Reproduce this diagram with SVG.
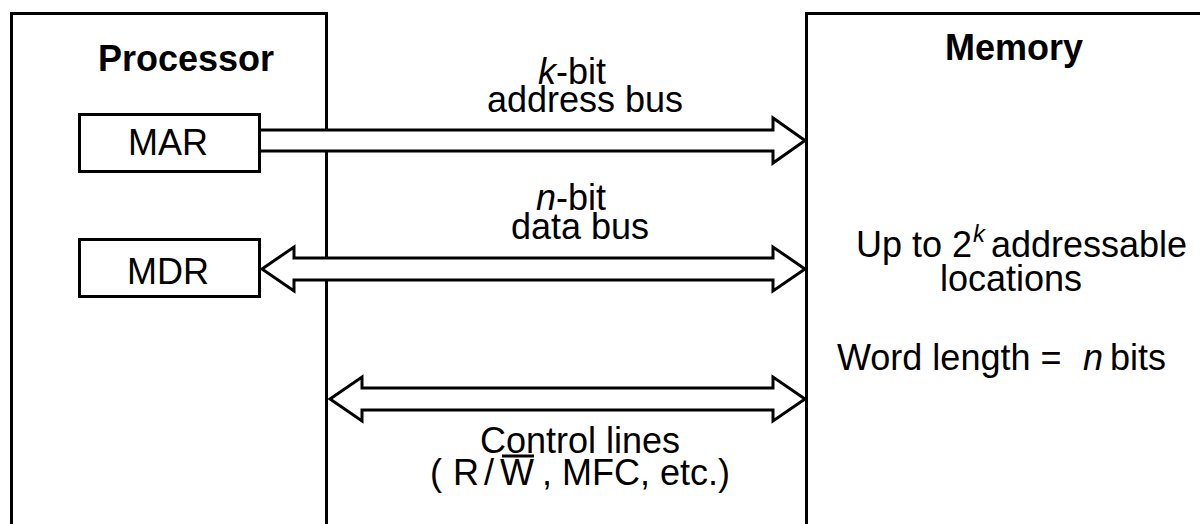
<svg xmlns="http://www.w3.org/2000/svg" width="1200" height="524" viewBox="0 0 1200 524">
<style>
.box{fill:#fff;stroke:#000;stroke-width:3}
.bus{fill:#fff;stroke:#000;stroke-width:3;stroke-linejoin:miter}
text{font-family:"Liberation Sans",Arial,sans-serif;font-size:36px;fill:#000}
.b{font-weight:bold}
.m{text-anchor:middle}
.i{font-style:italic}
</style>
<rect width="1200" height="524" fill="#fff"/>
<g id="processor">
<rect class="box" x="11.5" y="13.5" width="315" height="600"/>
<text class="b m" x="186" y="71">Processor</text>
</g>
<g id="memory">
<rect class="box" x="806.5" y="13.5" width="500" height="600"/>
<text class="b m" x="1014" y="60">Memory</text>
<text><tspan x="856" y="257">Up to 2</tspan><tspan class="i" font-size="24" x="973" y="242">k</tspan><tspan x="991" y="257">addressable</tspan><tspan class="m" x="1011" y="291">locations</tspan></text>
<text><tspan x="837" y="370">Word length =</tspan><tspan class="i" x="1083" y="370">n</tspan><tspan x="1110" y="370">bits</tspan></text>
</g>
<g id="mar">
<rect class="box" x="79.5" y="114.5" width="180" height="57"/>
<text class="m" x="168" y="155">MAR</text>
</g>
<g id="mdr">
<rect class="box" x="79.5" y="239.5" width="180" height="57"/>
<text class="m" x="168" y="284">MDR</text>
</g>
<g id="connectors">
<path class="bus" d="M261,130 H773 V118 L805,140.5 L773,163 V151 H261"/>
<path class="bus" d="M262,269 L294,247 V258 H773 V247 L805,269 L773,291 V280 H294 V291 Z"/>
<path class="bus" d="M330,399 L362,377 V388 H773 V377 L805,399 L773,421 V410 H362 V421 Z"/>
</g>
<g id="labels">
<text><tspan x="538" y="84" class="i">k</tspan><tspan>-bit</tspan><tspan class="m" x="585" y="112">address bus</tspan></text>
<text><tspan x="536" y="210" class="i">n</tspan><tspan>-bit</tspan><tspan class="m" x="580" y="239">data bus</tspan></text>
<text><tspan class="m" x="580" y="453">Control lines</tspan><tspan x="430" y="485">(</tspan><tspan x="453" y="485">R</tspan><tspan x="484" y="485">/</tspan><tspan x="500" y="485">W</tspan><tspan x="542" y="485">, MFC, etc.)</tspan></text>
<line x1="502" y1="456" x2="534" y2="456" stroke="#000" stroke-width="3"/>
</g>
</svg>
